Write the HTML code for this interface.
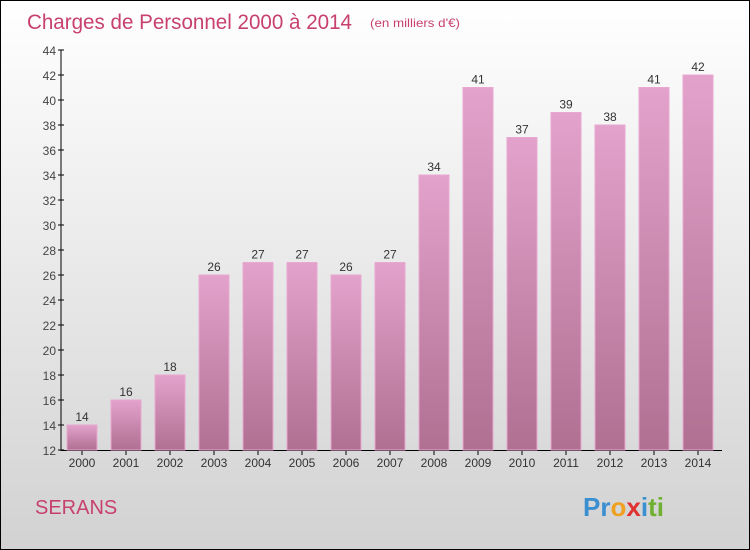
<!DOCTYPE html>
<html><head><meta charset="utf-8"><style>
body{margin:0}
#wrap{width:748px;height:548px;border:1px solid #000;background:linear-gradient(#fff,#d2d2d2);position:relative;overflow:hidden;font-family:"Liberation Sans",sans-serif}
</style></head><body>
<div id="wrap">
<svg width="748" height="548" viewBox="1 1 748 548" style="position:absolute;left:0;top:0">
<defs><linearGradient id="bg" x1="0" y1="0" x2="0" y2="1"><stop offset="0" stop-color="#e2a2cb"/><stop offset="1" stop-color="#b07092"/></linearGradient></defs>
<text x="27" y="29" font-size="21" fill="#c8406f" textLength="325" lengthAdjust="spacingAndGlyphs">Charges de Personnel 2000 à 2014</text>
<text x="370" y="27" font-size="12" fill="#c8406f" textLength="90" lengthAdjust="spacingAndGlyphs">(en milliers d'€)</text>
<text x="35" y="514" font-size="20" fill="#c8406f">SERANS</text>
<text x="583" y="516" font-size="26" font-weight="bold"><tspan fill="#3a8fd0">Pr</tspan><tspan fill="#f0a020">o</tspan><tspan fill="#e03030">x</tspan><tspan fill="#3a8fd0">i</tspan><tspan fill="#70b030">ti</tspan></text>
<g id="axes"></g><g id="bars"></g>
</svg>
</div>
<script>
const years=["2000","2001","2002","2003","2004","2005","2006","2007","2008","2009","2010","2011","2012","2013","2014"];
const values=[14,16,18,26,27,27,26,27,34,41,37,39,38,41,42];
const yTicks=[12,14,16,18,20,22,24,26,28,30,32,34,36,38,40,42,44];
const NS="http://www.w3.org/2000/svg";
const y=v=>450-(v-12)*12.5;
const x=i=>82+i*44;
function mk(t,a,p){const e=document.createElementNS(NS,t);for(const k in a)e.setAttribute(k,a[k]);p.appendChild(e);return e;}
const ax=document.getElementById('axes'),bg=document.getElementById('bars');
const yl=mk('line',{x1:61,y1:50,x2:61,y2:451,stroke:'#000'},ax);


const xl=mk('line',{x1:61,y1:450.5,x2:722,y2:450.5,stroke:'#000'},ax);


yTicks.forEach(v=>{
 mk('line',{x1:58,x2:64,y1:y(v),y2:y(v),stroke:'#000'},ax);
 const t=mk('text',{x:56,y:y(v)+5,'text-anchor':'end','font-size':12,fill:'#444'},ax);t.textContent=v;
 
 
});
years.forEach((yr,i)=>{
 mk('line',{x1:x(i),x2:x(i),y1:450,y2:455,stroke:'#000'},ax);
 const t=mk('text',{x:x(i),y:467,'text-anchor':'middle','font-size':12,fill:'#333'},ax);t.textContent=yr;
 
 
 const r=mk('rect',{x:x(i)-15,y:y(values[i]),width:30,height:450-y(values[i]),fill:'url(#bg)',stroke:'#e8a8d0','stroke-width':1},bg);
 
 
 const l=mk('text',{x:x(i),y:y(values[i])-4,'text-anchor':'middle','font-size':12,fill:'#333'},bg);l.textContent=values[i];
 
 
});
</script>
</body></html>
